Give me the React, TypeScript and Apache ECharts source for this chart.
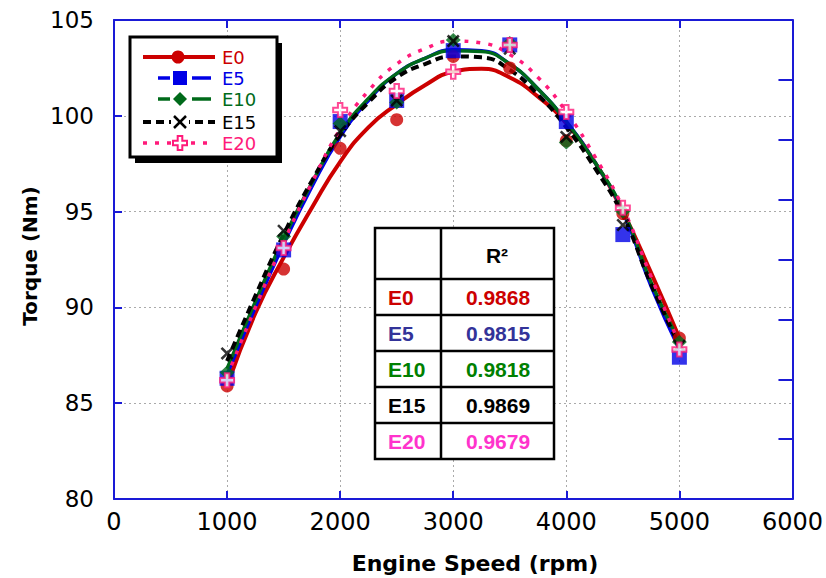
import React, { useEffect, useRef } from "react";
import * as echarts from "echarts";

// ---- data ----
const fuels = ["E0", "E5", "E10", "E15", "E20"];
const r2Values = ["0.9868", "0.9815", "0.9818", "0.9869", "0.9679"];
const xTickValues = [0, 1000, 2000, 3000, 4000, 5000, 6000];

const rpm = [1000, 1500, 2000, 2500, 3000, 3500, 4000, 4500, 5000];
const e0Points = [85.9, 92.0, 98.3, 99.8, 103.1, 102.5, 98.7, 94.9, 88.4];
const e5Points = [86.3, 93.0, 99.7, 100.8, 103.4, 103.7, 99.7, 93.8, 87.4];
const e10Points = [86.6, 93.7, 99.6, 100.7, 103.95, 103.8, 98.6, 95.0, 88.2];
const e15Points = [87.6, 94.0, 99.2, 100.8, 103.9, 103.5, 98.9, 94.3, 88.0];
const e20Points = [86.2, 93.1, 100.3, 101.3, 102.3, 103.7, 100.2, 95.2, 87.8];

// trend curves
const fitRpm = [1000, 1250, 1500, 1750, 2000, 2250, 2500, 2750, 3000, 3250, 3500, 3750, 4000, 4250, 4500, 4750, 5000];
const e0Fit = [85.9, 89.7, 92.6, 95.2, 97.6, 99.4, 100.6, 101.6, 102.3, 102.45, 102.0, 101.0, 99.6, 97.6, 95.0, 91.8, 88.4];
const e5Fit = [86.5, 90.0, 93.3, 96.3, 98.9, 100.8, 102.2, 103.0, 103.45, 103.4, 102.7, 101.4, 99.7, 97.6, 95.0, 91.1, 87.8];
const e10Fit = [86.8, 90.3, 93.6, 96.5, 99.1, 100.9, 102.2, 103.0, 103.4, 103.35, 102.7, 101.4, 99.7, 97.6, 95.1, 91.3, 88.2];
const e15Fit = [87.2, 90.6, 93.8, 96.6, 99.0, 100.7, 102.0, 102.7, 103.1, 103.05, 102.4, 101.1, 99.4, 97.3, 94.8, 91.2, 88.0];
const e20Fit = [86.4, 90.0, 93.4, 96.5, 99.3, 101.3, 102.7, 103.5, 103.9, 103.8, 103.2, 102.0, 100.2, 97.9, 95.2, 91.6, 88.1];

const pointSets = [e0Points, e5Points, e10Points, e15Points, e20Points];
const fitSets = [e0Fit, e5Fit, e10Fit, e15Fit, e20Fit];

// ---- styles ----
const lineColors = ["#cc0000", "#0000e6", "#006a1a", "#000000", "#ff1a7a"];
const tableColors = ["#cc0000", "#333399", "#008000", "#000000", "#ff33cc"];
const axisBlue = "#1a1ad6";
const FONT = "'DejaVu Sans', 'Liberation Sans', Arial, sans-serif";
const AFONT = "'Liberation Sans', Arial, sans-serif";

const X_PATH = "path://M1.4,0L5,3.6L8.6,0L10,1.4L6.4,5L10,8.6L8.6,10L5,6.4L1.4,10L0,8.6L3.6,5L0,1.4Z";
const PLUS_PATH = "path://M3.4,0H6.6V3.4H10V6.6H6.6V10H3.4V6.6H0V3.4H3.4Z";

const lineStyles: any[] = [
  { width: 4, type: "solid" },
  { width: 3.5, type: "solid" },
  { width: 3.5, type: "solid" },
  { width: 4, type: [8, 5] },
  { width: 3.5, type: [4, 8] },
];

const symbolDefs: any[] = [
  { symbol: "circle", symbolSize: 13, itemStyle: { color: lineColors[0] } },
  { symbol: "rect", symbolSize: 15, itemStyle: { color: lineColors[1] } },
  { symbol: "diamond", symbolSize: [15, 14], itemStyle: { color: lineColors[2] } },
  { symbol: X_PATH, symbolSize: 13, itemStyle: { color: "#000" } },
  { symbol: PLUS_PATH, symbolSize: 14, itemStyle: { color: "#ffffff", borderColor: lineColors[4], borderWidth: 2 } },
];

function legendGraphics(): any[] {
  const els: any[] = [];
  const bx = 130, by = 37, bw = 147, bh = 120;
  els.push({ type: "rect", shape: { x: bx + 5, y: by + 6, width: bw, height: bh }, style: { fill: "#000" }, z: 100 });
  els.push({ type: "rect", shape: { x: bx, y: by, width: bw, height: bh }, style: { fill: "#fff", stroke: "#000", lineWidth: 3 }, z: 101 });
  const ys = [57, 78, 99, 122, 143];
  fuels.forEach((f, i) => {
    const y = ys[i];
    const c = lineColors[i];
    const ls = lineStyles[i];
    const dash = Array.isArray(ls.type) ? ls.type : null;
    if (i === 1 || i === 2) {
      els.push({ type: "line", shape: { x1: 158, y1: y, x2: 170, y2: y }, style: { stroke: c, lineWidth: 3.5 }, z: 102 });
      els.push({ type: "line", shape: { x1: 192, y1: y, x2: 211, y2: y }, style: { stroke: c, lineWidth: 3.5 }, z: 102 });
    } else {
      els.push({ type: "line", shape: { x1: 143, y1: y, x2: 215, y2: y }, style: { stroke: c, lineWidth: ls.width, lineDash: dash }, z: 102 });
    }
    const cx = 180;
    if (i === 0) els.push({ type: "circle", shape: { cx: 178, cy: y, r: 6.5 }, style: { fill: c }, z: 103 });
    if (i === 1) els.push({ type: "rect", shape: { x: cx - 7, y: y - 7, width: 14, height: 14 }, style: { fill: c }, z: 103 });
    if (i === 2) els.push({ type: "polygon", shape: { points: [[cx, y - 7], [cx + 7, y], [cx, y + 7], [cx - 7, y]] }, style: { fill: c }, z: 103 });
    if (i === 3) {
      els.push({ type: "rect", shape: { x: cx - 9, y: y - 4, width: 18, height: 8 }, style: { fill: "#fff" }, z: 103 });
      els.push({ type: "line", shape: { x1: cx - 6, y1: y - 6, x2: cx + 6, y2: y + 6 }, style: { stroke: "#000", lineWidth: 2.5 }, z: 104 });
      els.push({ type: "line", shape: { x1: cx - 6, y1: y + 6, x2: cx + 6, y2: y - 6 }, style: { stroke: "#000", lineWidth: 2.5 }, z: 104 });
    }
    if (i === 4) {
      const s = 7, t = 2.3;
      els.push({
        type: "polygon",
        shape: { points: [[cx - t, y - s], [cx + t, y - s], [cx + t, y - t], [cx + s, y - t], [cx + s, y + t], [cx + t, y + t], [cx + t, y + s], [cx - t, y + s], [cx - t, y + t], [cx - s, y + t], [cx - s, y - t], [cx - t, y - t]] },
        style: { fill: "#fff", stroke: c, lineWidth: 2 },
        z: 103,
      });
    }
    els.push({
      type: "text",
      x: 222,
      y,
      style: { text: f, fill: c, font: `18px ${FONT}`, verticalAlign: "middle", align: "left" },
      z: 104,
    });
  });
  return els;
}

function tableGraphics(): any[] {
  const els: any[] = [];
  const L = 375, R = 554, T = 228, B = 459, C = 441;
  const rows = [279, 315, 351, 387, 423];
  els.push({ type: "rect", shape: { x: L, y: T, width: R - L, height: B - T }, style: { fill: "#fff", stroke: "#000", lineWidth: 2.5 }, z: 100 });
  els.push({ type: "line", shape: { x1: C, y1: T, x2: C, y2: B }, style: { stroke: "#000", lineWidth: 2.5 }, z: 101 });
  rows.forEach((ry) => {
    els.push({ type: "line", shape: { x1: L, y1: ry, x2: R, y2: ry }, style: { stroke: "#000", lineWidth: 2.5 }, z: 101 });
  });
  els.push({
    type: "text", x: 497, y: 255,
    style: { text: "R²", fill: "#000", font: `bold 21px ${AFONT}`, align: "center", verticalAlign: "middle" }, z: 102,
  });
  const centers = [297, 333, 369, 405, 441];
  fuels.forEach((f, i) => {
    els.push({
      type: "text", x: 388, y: centers[i],
      style: { text: f, fill: tableColors[i], font: `bold 21px ${AFONT}`, align: "left", verticalAlign: "middle" }, z: 102,
    });
    els.push({
      type: "text", x: 498, y: centers[i],
      style: { text: r2Values[i], fill: tableColors[i], font: `bold 21px ${AFONT}`, align: "center", verticalAlign: "middle" }, z: 102,
    });
  });
  return els;
}

export default function App() {
  const ref = useRef<HTMLDivElement>(null);
  useEffect(() => {
    if (!ref.current) return;
    const chart = echarts.init(ref.current, undefined, { renderer: "svg" });
    const series: any[] = [];
    fuels.forEach((f, i) => {
      series.push({
        name: f + " fit",
        type: "line",
        data: fitRpm.map((x, k) => [x, fitSets[i][k]]),
        smooth: 0.5,
        showSymbol: false,
        symbol: "none",
        lineStyle: { color: lineColors[i], width: lineStyles[i].width, type: lineStyles[i].type, cap: "butt" },
        z: 3 + i,
      });
    });
    fuels.forEach((f, i) => {
      series.push({
        name: f,
        type: "scatter",
        data: rpm.map((x, k) => [x, pointSets[i][k]]),
        symbol: symbolDefs[i].symbol,
        symbolSize: symbolDefs[i].symbolSize,
        itemStyle: symbolDefs[i].itemStyle,
        z: 10 + i,
      });
    });
    chart.setOption({
      animation: false,
      backgroundColor: "#ffffff",
      grid: { left: 114, right: 29, top: 20, bottom: 79, containLabel: false },
      xAxis: [
        {
          type: "value", min: 0, max: 6000, interval: 1000,
          axisLine: { show: true, lineStyle: { color: axisBlue, width: 2 } },
          axisTick: { show: true, inside: true, length: 8, lineStyle: { color: axisBlue, width: 2 } },
          axisLabel: {
            color: "#000", fontSize: 24, fontFamily: FONT, margin: 11,
            formatter: (v: number) => (xTickValues.includes(v) ? String(v) : ""),
          },
          splitLine: { show: true, lineStyle: { color: "#aaaaaa", type: [2, 3], width: 1 } },
        },
        {
          type: "value", min: 0, max: 6000, interval: 1000, position: "top",
          axisLine: { show: true, onZero: false, lineStyle: { color: axisBlue, width: 2 } },
          axisTick: { show: true, inside: true, length: 8, lineStyle: { color: axisBlue, width: 2 } },
          axisLabel: { show: false },
          splitLine: { show: false },
        },
      ],
      yAxis: [
        {
          type: "value", min: 80, max: 105, interval: 5,
          axisLine: { show: true, lineStyle: { color: axisBlue, width: 2 } },
          axisTick: { show: true, inside: true, length: 8, lineStyle: { color: axisBlue, width: 2 } },
          axisLabel: { color: "#000", fontSize: 23, fontFamily: FONT, margin: 20 },
          splitLine: { show: true, lineStyle: { color: "#aaaaaa", type: [2, 3], width: 1 } },
        },
        {
          type: "value", min: 0, max: 8, interval: 1, position: "right",
          axisLine: { show: true, onZero: false, lineStyle: { color: axisBlue, width: 2 } },
          axisTick: { show: true, inside: true, length: 14, lineStyle: { color: axisBlue, width: 2 } },
          axisLabel: { show: false },
          splitLine: { show: false },
        },
      ],
      graphic: [
        {
          type: "text", x: 30, y: 256, rotation: Math.PI / 2,
          style: { text: "Torque (Nm)", fill: "#000", font: `bold 20px ${FONT}`, align: "center", verticalAlign: "middle" },
        },
        {
          type: "text", x: 475, y: 563,
          style: { text: "Engine Speed (rpm)", fill: "#000", font: `bold 22px ${FONT}`, align: "center", verticalAlign: "middle" },
        },
        ...legendGraphics(),
        ...tableGraphics(),
      ],
      series,
    });
    return () => chart.dispose();
  }, []);
  return <div ref={ref} style={{ position: "fixed", left: 0, top: 0, width: 826, height: 578 }} />;
}
